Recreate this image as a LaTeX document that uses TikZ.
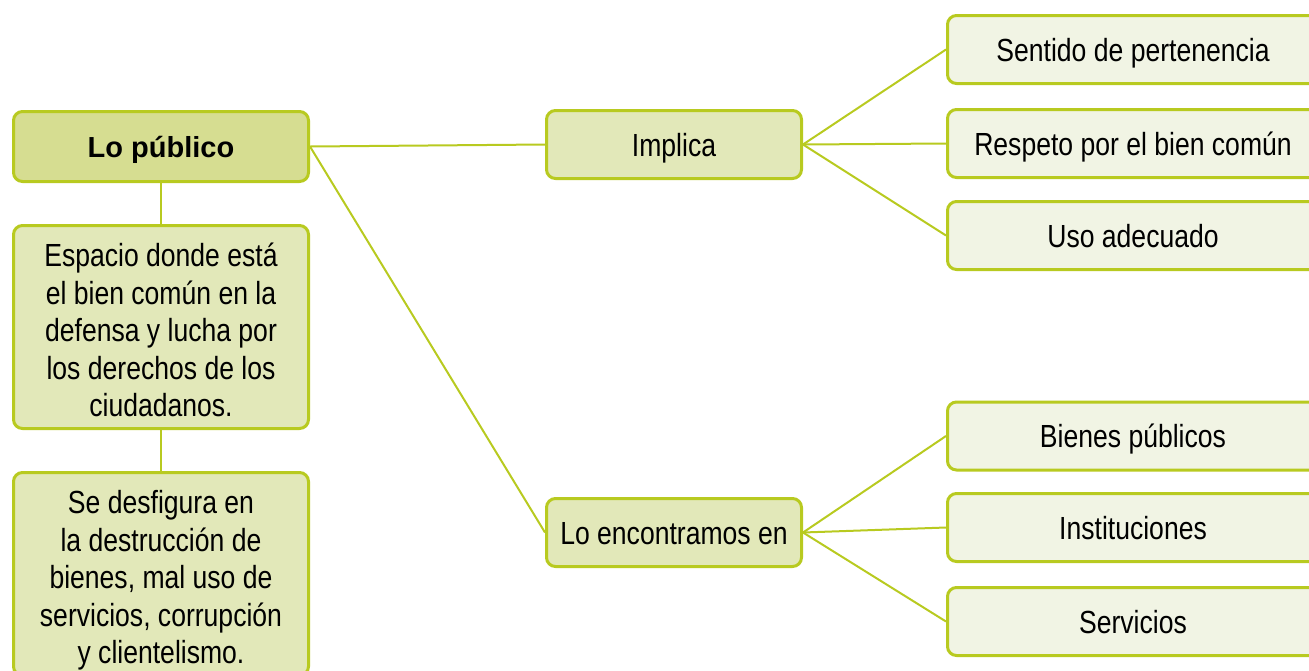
\documentclass[tikz,border=0pt]{standalone}
\usepackage{fontspec}
\setmainfont{Liberation Sans}
\newfontfamily\condfont[FakeStretch=0.83]{Liberation Sans}
\usepackage{tikz}
\usetikzlibrary{positioning}
\definecolor{limeline}{RGB}{184,202,32}
\definecolor{mainfill}{RGB}{214,221,145}
\definecolor{midfill}{RGB}{226,232,185}
\definecolor{leaffill}{RGB}{241,244,228}

\begin{document}
\begin{tikzpicture}[x=1pt, y=-1pt,
    box/.style={rectangle, draw=limeline, line width=3pt, rounded corners=9pt, align=center, inner sep=0pt,
        font=\condfont\fontsize{32}{37.5}\selectfont, text height=23pt, text depth=0pt},
    mainbox/.style={box, fill=mainfill, minimum width=295pt, minimum height=70pt,
        font=\bfseries\fontsize{29}{34}\selectfont, text height=21pt},
    textbox/.style={box, fill=midfill, minimum width=295pt, minimum height=203pt,
        text height=186pt, text depth=7pt},
    midbox/.style={box, fill=midfill, minimum width=255pt, minimum height=68pt},
    leafbox/.style={box, fill=leaffill, minimum width=371pt, minimum height=68pt},
    link/.style={draw=limeline, line width=2pt}
]
    \clip (0,0) rectangle (1309,670);

    \node[mainbox] (publico) at (161,146.5) {Lo público};
    \node[textbox] (espacio) at (161,327) {Espacio donde está\\el bien común en la\\defensa y lucha por\\los derechos de los\\ciudadanos.};
    \node[textbox] (desfigura) at (161,574) {Se desfigura en\\la destrucción de\\bienes, mal uso de\\servicios, corrupción\\y clientelismo.};

    \node[midbox] (implica) at (674,144.5) {Implica};
    \node[midbox] (encontramos) at (674,532.5) {Lo encontramos en};

    \node[leafbox] (sentido) at (1133,49.5) {Sentido de pertenencia};
    \node[leafbox] (respeto) at (1133,143.5) {Respeto por el bien común};
    \node[leafbox] (uso) at (1133,235.5) {Uso adecuado};
    \node[leafbox] (bienes) at (1133,436) {Bienes públicos};
    \node[leafbox] (instituciones) at (1133,527.5) {Instituciones};
    \node[leafbox] (servicios) at (1133,621.5) {Servicios};

    \draw[link] (publico) -- (espacio);
    \draw[link] (espacio) -- (desfigura);
    \draw[link] (publico.east) -- (implica.west);
    \draw[link] (publico.east) -- (encontramos.west);
    \foreach \leaf in {sentido,respeto,uso}
        \draw[link] (implica.east) -- (\leaf.west);
    \foreach \leaf in {bienes,instituciones,servicios}
        \draw[link] (encontramos.east) -- (\leaf.west);
\end{tikzpicture}
\end{document}
